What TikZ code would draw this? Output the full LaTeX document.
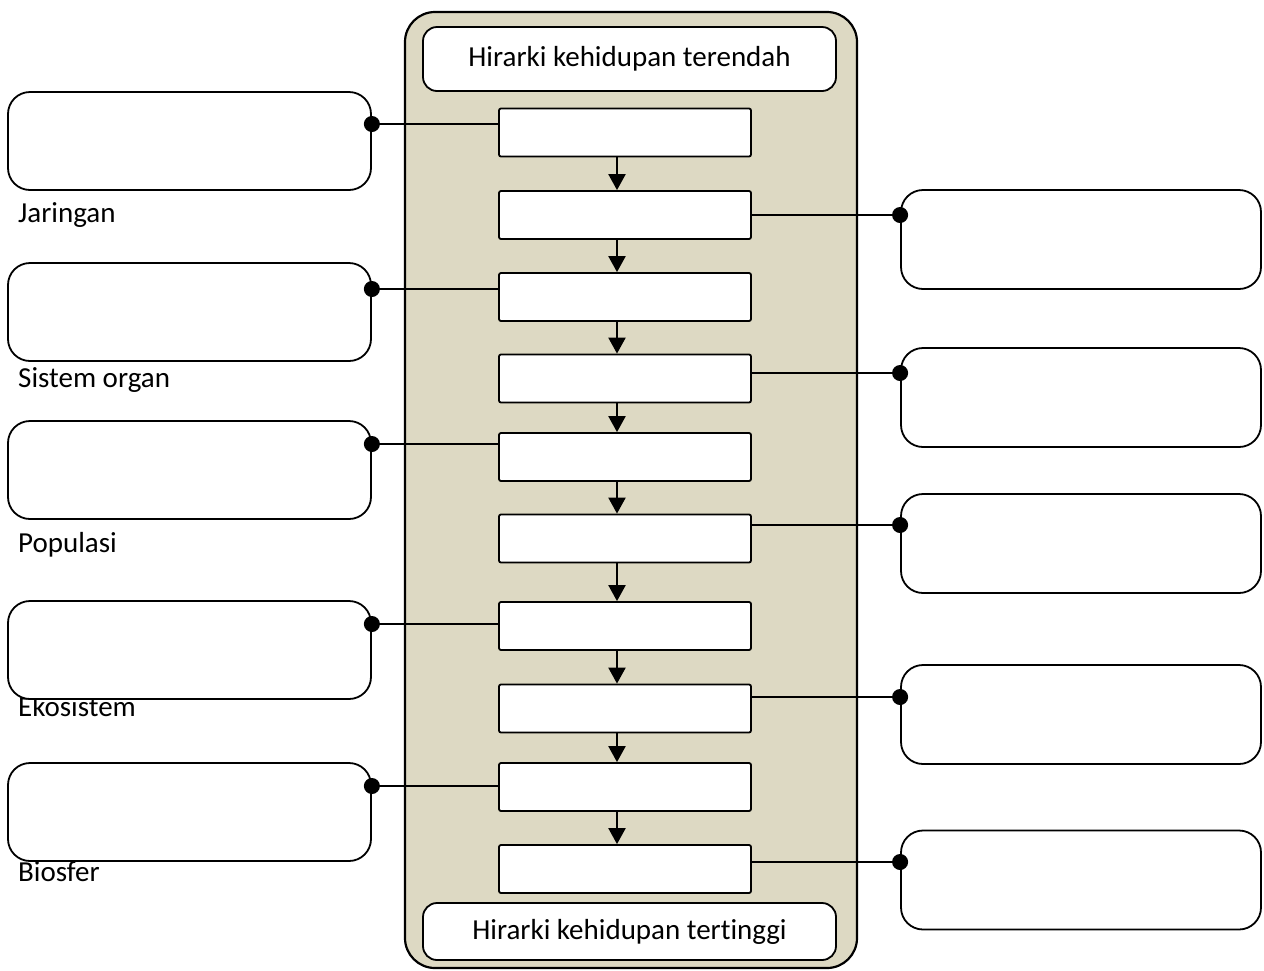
\documentclass[tikz,border=0pt]{standalone}
\usepackage{fontspec}
\setmainfont{Carlito}[RawFeature={-liga;-clig;-dlig}]
\usetikzlibrary{arrows.meta, positioning}

\definecolor{panelfill}{HTML}{DDD9C3}

\tikzset{
  level/.style={draw, fill=white, line width=1.8pt, rounded corners=2pt,
    minimum width=252pt, minimum height=48pt, inner sep=0pt},
  leftslot/.style={draw, fill=white, line width=1.8pt, rounded corners=22pt,
    minimum width=363pt, minimum height=98pt, inner sep=0pt},
  rightslot/.style={draw, fill=white, line width=1.8pt, rounded corners=22pt,
    minimum width=360pt, minimum height=99pt, inner sep=0pt},
  endcap/.style={draw, fill=white, line width=1.8pt, rounded corners=14pt,
    minimum width=413pt, inner sep=0pt},
  flow/.style={line width=2.2pt, -{Triangle[width=17pt,length=16pt]}},
  link/.style={line width=2.2pt, -{Circle[length=16pt]}, shorten >=-8pt},
}

\begin{document}
\begin{tikzpicture}[x=1pt, y=-1pt, font=\fontsize{29}{35}\selectfont]
  \useasboundingbox (0,0) rectangle (1264,970);

  % panel in the middle
  \draw[fill=panelfill, line width=2.2pt, rounded corners=30pt] (405,12) rectangle (857,968);

  \node[endcap, minimum height=64pt] (low) at (629.5,59) {Hirarki kehidupan terendah};
  \node[endcap, minimum height=57pt] (high) at (629.5,931.5) {Hirarki kehidupan ter\kern0pt tinggi};

  % levels
  \node[level] (c1) at (625,132.5) {};
  \node[level] (c2) at (625,215) {};
  \node[level] (c3) at (625,297) {};
  \node[level] (c4) at (625,378.5) {};
  \node[level] (c5) at (625,457) {};
  \node[level] (c6) at (625,538.5) {};
  \node[level] (c7) at (625,626) {};
  \node[level] (c8) at (625,708.5) {};
  \node[level] (c9) at (625,787) {};
  \node[level] (c10) at (625,869) {};

  \coordinate (spine) at (617,0);
  \foreach \i [evaluate=\i as \j using int(\i+1)] in {1,...,9}
    \draw[flow] (c\i.south -| spine) -- (c\j.north -| spine);

  % labels under the left boxes
  \node[anchor=base west, inner sep=0pt] (jar) at (18,222) {Jaringan};
  \node[anchor=base west, inner sep=0pt] (sis) at (18,387) {Sistem organ};
  \node[anchor=base west, inner sep=0pt] (pop) at (18,552) {Populasi};
  \node[anchor=base west, inner sep=0pt] (eko) at (18,716) {Ekosistem};
  \node[anchor=base west, inner sep=0pt] (bio) at (18,881) {Biosfer};

  % answer boxes
  \node[leftslot] (l1) at (189.5,141) {};
  \node[leftslot] (l2) at (189.5,312) {};
  \node[leftslot] (l3) at (189.5,470) {};
  \node[leftslot] (l4) at (189.5,650) {};
  \node[leftslot] (l5) at (189.5,812) {};

  \node[rightslot] (r1) at (1081,239.5) {};
  \node[rightslot] (r2) at (1081,397.5) {};
  \node[rightslot] (r3) at (1081,543.5) {};
  \node[rightslot] (r4) at (1081,714.5) {};
  \node[rightslot] (r5) at (1081,880) {};

  \foreach \i/\k/\y in {1/1/124, 3/2/289, 5/3/444, 7/4/624, 9/5/786}
    \draw[link] (c\i.west |- 0,\y) -- (l\k.east |- 0,\y);
  \foreach \i/\k/\y in {2/1/215, 4/2/373, 6/3/525, 8/4/697, 10/5/862}
    \draw[link] (c\i.east |- 0,\y) -- (r\k.west |- 0,\y);
\end{tikzpicture}
\end{document}
